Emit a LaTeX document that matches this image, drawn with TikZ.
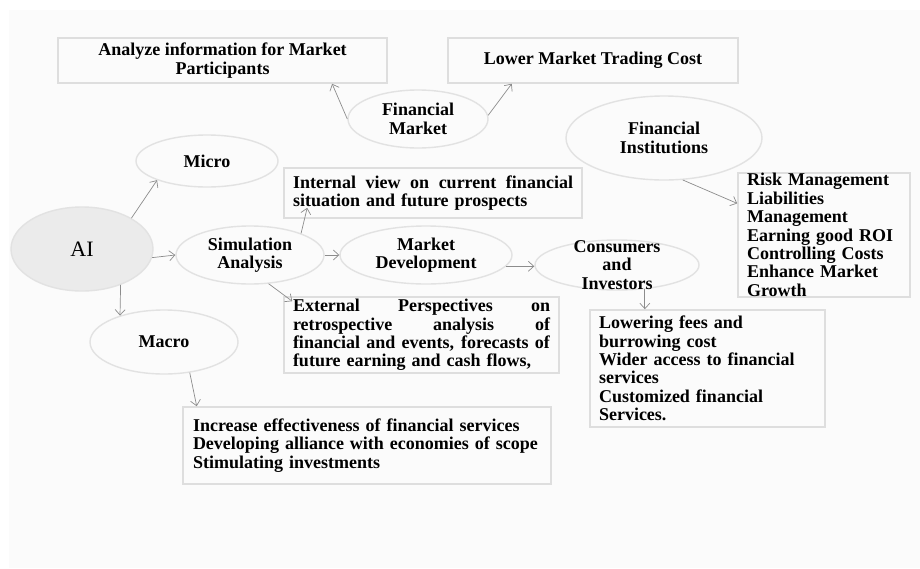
\documentclass[tikz,border=0pt]{standalone}
\usepackage{fontspec}
\setmainfont{Liberation Serif}
\usetikzlibrary{arrows.meta,shapes.geometric,calc}
\definecolor{bordergray}{HTML}{DEDEDE}
\definecolor{ellgray}{HTML}{E2E2E2}
\definecolor{arrowgray}{HTML}{8C8C8C}
\definecolor{bggray}{HTML}{FBFBFB}
\definecolor{aifill}{HTML}{EBEBEB}
\newcommand\jline[2]{\leavevmode\hbox to #1{\spaceskip=0.25em plus 1fil\relax #2}}
\begin{document}
\begin{tikzpicture}[x=1pt,y=-1pt,
  txt/.style={font=\fontsize{18}{18.4}\selectfont\bfseries},
  box/.style={draw=bordergray, line width=1.6pt, rectangle, inner sep=0pt, txt},
  ell/.style={draw=ellgray, line width=1.4pt, ellipse, inner sep=0pt, txt, align=center},
  arr/.style={draw=arrowgray, line width=0.7pt, -{Straight Barb[length=5.5pt,width=10pt]}}]
\useasboundingbox (0,0) rectangle (920,568);
\fill[bggray] (9,10) rectangle (920,568);

% boxes
\node[box, minimum width=329pt, minimum height=45pt, align=center] (ana) at (222.5,60.5) {Analyze information for Market\\Participants};
\node[box, minimum width=290pt, minimum height=45pt, align=center] (ltc) at (593,60.5) {Lower Market Trading Cost};
\node[box, minimum width=172pt, minimum height=124pt, text width=154pt, align=left] (risk) at (824,235) {Risk Management\\Liabilities\\Management\\Earning good ROI\\Controlling Costs\\Enhance Market\\Growth};
\node[box, minimum width=298pt, minimum height=50pt, text width=280pt, align=left] (int) at (433,193) {\jline{280pt}{Internal view on current financial}\\situation and future prospects};
\node[box, minimum width=275pt, minimum height=76pt, text width=257pt, align=left] (ext) at (421.5,335) {\jline{257pt}{External Perspectives on}\\\jline{257pt}{retrospective analysis of}\\\jline{257pt}{financial and events, forecasts of}\\future earning and cash flows,};
\node[box, minimum width=235pt, minimum height=117pt, text width=217pt, align=left] (lwr) at (707.5,368.5) {Lowering fees and\\burrowing cost\\Wider access to financial\\services\\Customized financial\\Services.};
\node[box, minimum width=368pt, minimum height=77pt, text width=348pt, align=left] (inc) at (367,445.5) {Increase effectiveness of financial services\\Developing alliance with economies of scope\\Stimulating investments};

% ellipses
\node[ell, minimum width=140pt, minimum height=58pt] (fm) at (418,119) {Financial\\Market};
\node[ell, minimum width=196pt, minimum height=84pt] (fi) at (664,138) {Financial\\Institutions};
\node[ell, minimum width=142pt, minimum height=52pt] (micro) at (207,161) {Micro};
\node[ell, fill=aifill, minimum width=142pt, minimum height=84pt, font=\fontsize{22}{24}\selectfont] (ai) at (82,249) {AI};
\node[ell, minimum width=148pt, minimum height=58pt] (sim) at (250,255) {Simulation\\Analysis};
\node[ell, minimum width=148pt, minimum height=64pt] (macro) at (164,342) {Macro};
\node[ell, minimum width=172pt, minimum height=58pt] (md) at (426,255) {Market\\Development};
\node[ell, minimum width=164pt, minimum height=50pt] (cons) at (617,265) {};
\node[txt, align=center, inner sep=0pt] (constext) at (617,265) {Consumers\\and\\Investors};

% connectors
\draw[arr] (fm.180) -- (ana.-12.6);
\draw[arr] (fm.3) -- (ltc.-164.5);
\draw[arr] (fi.-66) -- (risk.160.8);
\draw[arr] (ai.32) -- (micro.201);
\draw[arr] (ai.-7) -- (sim.west);
\draw[arr] (ai.-43.5) -- (macro.149.4);
\draw[arr] (macro.-50) -- (inc.167.1);
\draw[arr] (sim.23) -- ($(int.south west)+(24,-11)$);
\draw[arr] (sim.east) -- (md.west);
\draw[arr] (sim.-57) -- ($(ext.north west)+(9,5)$);
\draw[arr] (md.-8) -- (md.-8 -| cons.west);
\draw[arr] (cons.-41.2) -- (cons.-41.2 |- lwr.north);
\end{tikzpicture}
\end{document}
